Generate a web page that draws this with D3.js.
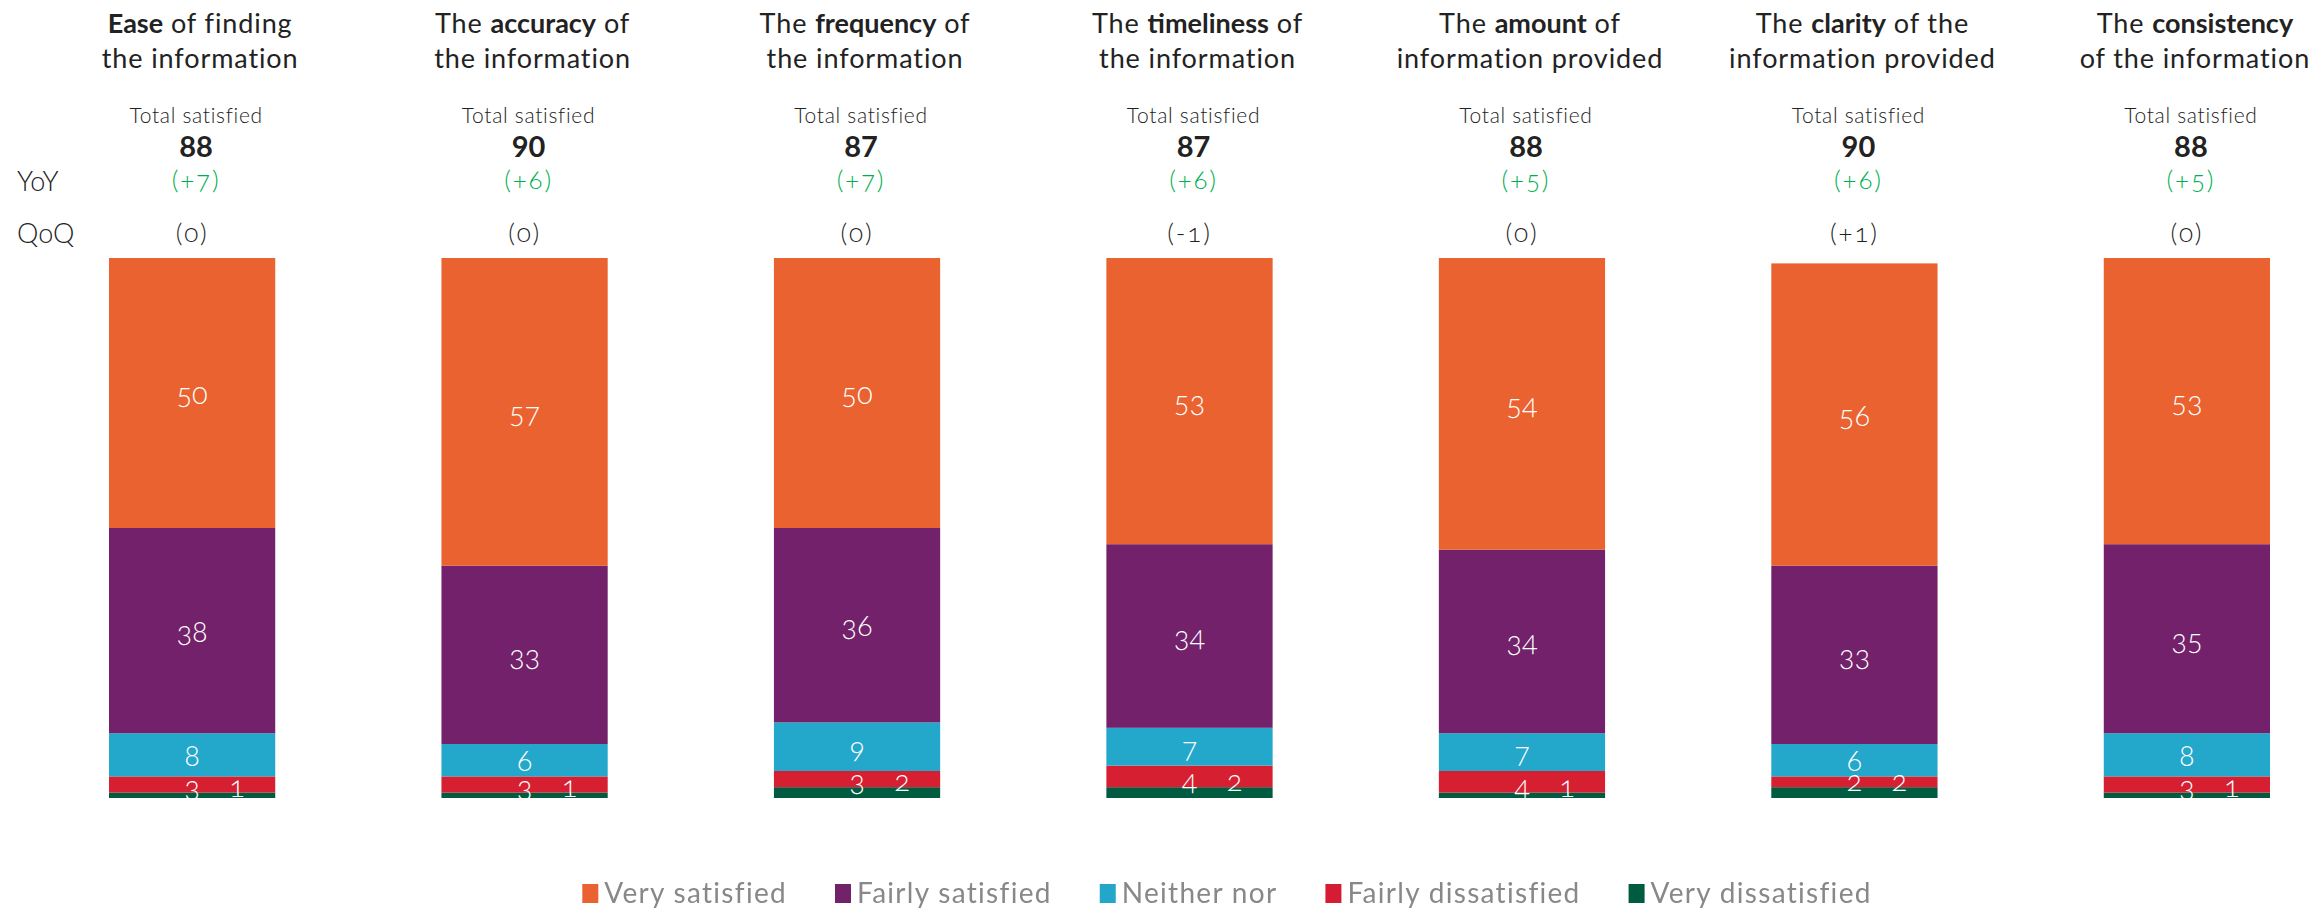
<!DOCTYPE html>
<html>
<head>
<meta charset="utf-8">
<script src="https://cdn.jsdelivr.net/npm/d3@7"></script>
<style>
  body { margin: 0; background: #fff; }
  svg { display: block; font-family: Lato, "Open Sans", sans-serif; }
  .onum { font-variant-numeric: oldstyle-nums; }
</style>
</head>
<body>
<svg id="chart" width="2311" height="910"></svg>
<script>
// Question titles, split into plain and bold runs
const titleLead  = ["", "The ", "The ", "The ", "The ", "The ", "The "];
const titleBold  = ["Ease", "accuracy", "frequency", "timeliness", "amount", "clarity", "consistency"];
const titleTail  = [" of finding", " of", " of", " of", " of", " of the", ""];
const titleLine2 = ["the information", "the information", "the information", "the information",
                    "information provided", "information provided", "of the information"];

// Response shares (%) per question
const verySatisfied      = [50, 57, 50, 53, 54, 56, 53];
const fairlySatisfied    = [38, 33, 36, 34, 34, 33, 35];
const neitherNor         = [8, 6, 9, 7, 7, 6, 8];
const fairlyDissatisfied = [3, 3, 3, 4, 4, 2, 3];
const veryDissatisfied   = [1, 1, 2, 2, 1, 2, 1];

// Header figures
const totalSatisfied = [88, 90, 87, 87, 88, 90, 88];
const yoyChange = ["(+7)", "(+6)", "(+7)", "(+6)", "(+5)", "(+6)", "(+5)"];
const qoqChange = ["(0)", "(0)", "(0)", "(-1)", "(0)", "(+1)", "(0)"];

const seriesNames  = ["Very satisfied", "Fairly satisfied", "Neither nor", "Fairly dissatisfied", "Very dissatisfied"];
const seriesColors = ["#EA6230", "#73216A", "#23A7CA", "#D61F31", "#005B40"];
const seriesValues = [verySatisfied, fairlySatisfied, neitherNor, fairlyDissatisfied, veryDissatisfied];

const W = 2311, H = 910;
const svg = d3.select("#chart");

// rows for the stack layout
const rows = titleBold.map((q, i) => {
  const r = { key: q };
  seriesNames.forEach((s, j) => r[s] = seriesValues[j][i]);
  return r;
});

// stack from the bottom: very dissatisfied first
const stackKeys = seriesNames.slice().reverse();
const stacked = d3.stack().keys(stackKeys)(rows);
const colorOf = d3.scaleOrdinal().domain(seriesNames).range(seriesColors);

const x = d3.scaleBand().domain(titleBold).range([109, 2270]).paddingInner(0.5).paddingOuter(0);
const y = d3.scaleLinear().domain([0, 100]).range([798, 258]);
const cx = q => x(q) + x.bandwidth() / 2;

// ---- bars
const bars = svg.append("g");
bars.selectAll("g.series")
  .data(stacked)
  .join("g")
  .attr("class", "series")
  .attr("fill", d => colorOf(d.key))
  .selectAll("rect")
  .data(d => d)
  .join("rect")
  .attr("x", d => x(d.data.key))
  .attr("width", x.bandwidth())
  .attr("y", d => y(d[1]))
  .attr("height", d => y(d[0]) - y(d[1]));

// ---- segment labels (clipped at the baseline of the bars)
svg.append("clipPath").attr("id", "plotClip")
  .append("rect").attr("x", 0).attr("y", 0).attr("width", W).attr("height", y(0) + 1);

const labels = svg.append("g").attr("clip-path", "url(#plotClip)")
  .attr("fill", "#fff").attr("font-size", 29).attr("font-weight", 300)
  .attr("text-anchor", "middle").attr("class", "onum");

const byKey = {};
stacked.forEach(s => byKey[s.key] = s);

["Very satisfied", "Fairly satisfied", "Neither nor"].forEach(k => {
  labels.selectAll(null)
    .data(byKey[k])
    .join("text")
    .attr("x", d => cx(d.data.key))
    .attr("y", d => (y(d[0]) + y(d[1])) / 2 + 11)
    .text(d => d.data[k]);
});

// the two small dissatisfied shares share one line, side by side
const vd = byKey["Very dissatisfied"];
labels.selectAll(null)
  .data(byKey["Fairly dissatisfied"])
  .join("text")
  .attr("x", d => cx(d.data.key))
  .attr("y", (d, i) => y(vd[i][1]) + 4)
  .text(d => d.data["Fairly dissatisfied"]);
labels.selectAll(null)
  .data(vd)
  .join("text")
  .attr("x", d => cx(d.data.key) + 45)
  .attr("y", d => y(d[1]) + 4)
  .text(d => d.data["Very dissatisfied"]);

// ---- column headers
const head = svg.append("g").attr("text-anchor", "middle").attr("fill", "#222");

const t1 = head.selectAll(null).data(titleBold).join("text")
  .attr("x", q => cx(q) + 8).attr("y", 33)
  .attr("font-size", 27).attr("font-weight", 400).attr("letter-spacing", 0.9);
t1.append("tspan").text((q, i) => titleLead[i]);
t1.append("tspan").attr("font-weight", 700).attr("letter-spacing", 0).text(q => q);
t1.append("tspan").text((q, i) => titleTail[i]);

head.selectAll(null).data(titleBold).join("text")
  .attr("x", q => cx(q) + 8).attr("y", 68)
  .attr("font-size", 27).attr("font-weight", 400).attr("letter-spacing", 0.9)
  .text((q, i) => titleLine2[i]);

head.selectAll(null).data(titleBold).join("text")
  .attr("x", q => cx(q) + 4).attr("y", 123)
  .attr("font-size", 21).attr("font-weight", 300).attr("letter-spacing", 0.7)
  .text("Total satisfied");

head.selectAll(null).data(titleBold).join("text")
  .attr("x", q => cx(q) + 4).attr("y", 157)
  .attr("font-size", 29).attr("font-weight", 700)
  .text((q, i) => totalSatisfied[i]);

head.selectAll(null).data(titleBold).join("text")
  .attr("x", q => cx(q) + 4).attr("y", 189)
  .attr("class", "onum")
  .attr("font-size", 26).attr("font-weight", 300).attr("letter-spacing", 1.8).attr("fill", "#00B050")
  .text((q, i) => yoyChange[i]);

head.selectAll(null).data(titleBold).join("text")
  .attr("x", q => cx(q)).attr("y", 242)
  .attr("class", "onum")
  .attr("font-size", 26).attr("font-weight", 300).attr("letter-spacing", 1.8)
  .text((q, i) => qoqChange[i]);

// row labels
const rowLab = svg.append("g").attr("fill", "#222").attr("font-size", 27).attr("font-weight", 300);
rowLab.append("text").attr("x", 17).attr("y", 191).text("YoY");
rowLab.append("text").attr("x", 17).attr("y", 243).text("QoQ");

// ---- legend
const defs = svg.append("defs");
defs.append("filter").attr("id", "soft")
  .append("feGaussianBlur").attr("stdDeviation", 0.6);

const legend = svg.append("g").attr("filter", "url(#soft)");
const items = legend.selectAll("g").data(seriesNames).join("g");
items.append("rect").attr("width", 16).attr("height", 19).attr("y", 884)
  .attr("fill", d => colorOf(d));
items.append("text").attr("x", 22).attr("y", 903)
  .attr("font-size", 28).attr("font-weight", 400).attr("letter-spacing", 1.3).attr("fill", "#888")
  .text(d => d);

// place legend entries one after another, centred under the chart
let widths = [];
items.select("text").each(function() { widths.push(22 + this.getComputedTextLength()); });
const gap = 48;
const total = d3.sum(widths) + gap * (widths.length - 1);
let pos = 1227 - total / 2;
items.attr("transform", (d, i) => {
  const t = `translate(${pos},0)`;
  pos += widths[i] + gap;
  return t;
});
</script>
</body>
</html>
